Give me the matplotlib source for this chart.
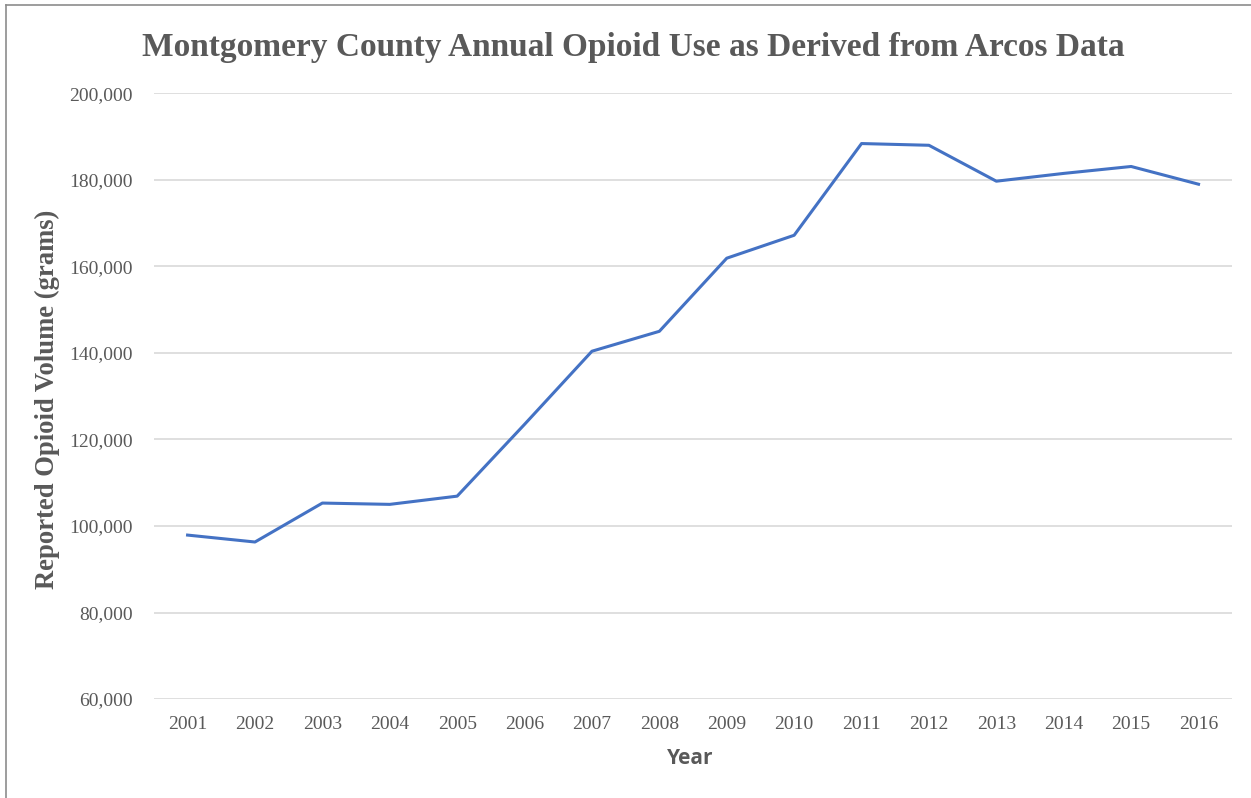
import numpy as np
import matplotlib
matplotlib.use("Agg")
import matplotlib.pyplot as plt
from matplotlib.ticker import FuncFormatter
from matplotlib.lines import Line2D

# ── data ──────────────────────────────────────────────────────────────
years = ["2001", "2002", "2003", "2004", "2005", "2006", "2007", "2008",
         "2009", "2010", "2011", "2012", "2013", "2014", "2015", "2016"]
volume = [97900, 96300, 105300, 105000, 106900, 123500, 140400, 145000,
          161900, 167200, 188400, 188000, 179700, 181500, 183100, 179000]
y_ticks = [60000, 80000, 100000, 120000, 140000, 160000, 180000, 200000]

GRAY = "#595959"
SERIF = ["Liberation Serif", "DejaVu Serif"]

fig = plt.figure(figsize=(12.51, 7.98), dpi=100)
ax = fig.add_axes([0.123, 0.124, 0.862, 0.759])

x = np.arange(len(years))
ax.plot(x, volume, color="#4472C4", linewidth=2.2, solid_joinstyle="round", zorder=3)

ax.set_xlim(-0.5, len(years) - 0.5)
ax.set_ylim(60000, 200000)
ax.set_yticks(y_ticks)
ax.yaxis.set_major_formatter(FuncFormatter(lambda v, p: f"{int(v):,}"))
ax.set_xticks(x)
ax.set_xticklabels(years)

ax.grid(axis="y", color="#D9D9D9", linewidth=1.2, zorder=0)
ax.tick_params(length=0, colors=GRAY, labelsize=14, pad=12)
ax.tick_params(axis="y", pad=15)
for lab in ax.get_xticklabels() + ax.get_yticklabels():
    lab.set_family(SERIF)
for s in ax.spines.values():
    s.set_visible(False)

fig.text(0.506, 0.94, "Montgomery County Annual Opioid Use as Derived from Arcos Data",
         ha="center", va="center", fontsize=24, fontweight="bold",
         family=SERIF, color=GRAY)
fig.text(0.038, 0.5, "Reported Opioid Volume (grams)", rotation=90,
         ha="center", va="center", fontsize=19.2, fontweight="bold",
         family=SERIF, color=GRAY)
fig.text(0.552, 0.05, "Year", ha="center", va="center", fontsize=15,
         fontweight="bold", family=["Open Sans", "DejaVu Sans"], color=GRAY)

# thin frame lines at the left and top edge
fig.lines.append(Line2D([0.005, 0.005], [0.0, 0.994], transform=fig.transFigure,
                        color="#8C8C8C", linewidth=1.2))
fig.lines.append(Line2D([0.005, 1.0], [0.994, 0.994], transform=fig.transFigure,
                        color="#8C8C8C", linewidth=1.2))

fig.savefig("out.png", dpi=100)
